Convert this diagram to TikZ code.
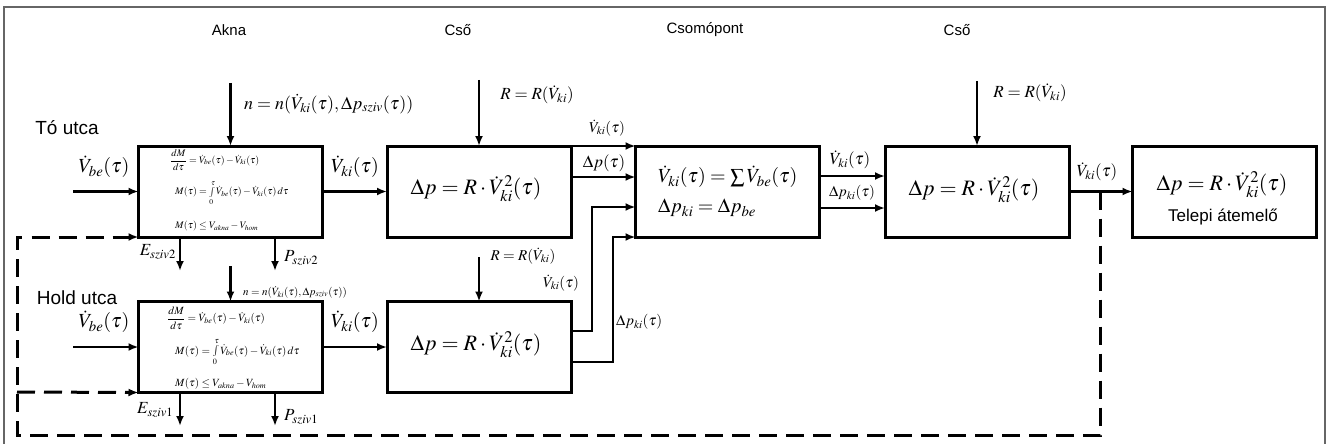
\documentclass[tikz,border=0pt]{standalone}
\usepackage{mathptmx}
\usepackage{fontspec}
\setsansfont{Liberation Sans}
\usetikzlibrary{arrows.meta,calc}
\begin{document}
\begin{tikzpicture}[x=1pt,y=-1pt,
  box/.style={draw, line width=3pt, minimum width=184pt, minimum height=91pt, inner sep=0pt, outer sep=0pt},
  arr/.style={line width=2.5pt, -{Latex[length=10pt,width=8pt]}},
  dsh/.style={line width=3pt, dash pattern=on 18pt off 9pt},
  big/.style={font=\fontsize{22}{26}\selectfont, inner sep=0pt},
  mid/.style={font=\fontsize{20}{24}\selectfont, inner sep=0pt},
  lab/.style={font=\fontsize{17}{20}\selectfont, inner sep=0pt},
  sm/.style={font=\fontsize{15}{18}\selectfont, inner sep=0pt},
  tiny/.style={font=\fontsize{10}{12}\selectfont, inner sep=0pt},
  tinyb/.style={font=\fontsize{11}{13}\selectfont, inner sep=0pt},
  street/.style={font=\sffamily\fontsize{19}{22}\selectfont, inner sep=0pt},
  title/.style={font=\sffamily\fontsize{15}{18}\selectfont, inner sep=0pt},
  frame/.style={draw=black!60, line width=2pt}]
\useasboundingbox (0,0) rectangle (1328,444);
\draw[frame] (4,444) -- (4,7) -- (1325,7) -- (1325,444);

% column titles
\node[title] (tAkna) at (229,30) {Akna};
\node[title] (tCso1) at (458,30) {Cső};
\node[title] (tCsp) at (705,30) {Csomópont};
\node[title] (tCso2) at (957,30) {Cső};
\node[street] (tTo) at (67,128) {Tó utca};
\node[street] (tHold) at (77,298) {Hold utca};

% boxes
\node[box] (A1) at (230.5,191.5) {};
\node[box] (A2) at (230.5,347) {};
\node[box] (C1) at (479,191.5) {};
\node[box] (C2) at (479,347) {};
\node[box] (N) at (727.5,191.5) {};
\node[box] (C3) at (977,191.5) {};
\node[box] (T) at (1224.5,191.5) {};

% box contents
\node[big] (C1f) at (476,189) {$\Delta p = R\cdot \dot V_{ki}^{2}(\tau)$};
\node[big] (C2f) at (476,345) {$\Delta p = R\cdot \dot V_{ki}^{2}(\tau)$};
\node[big] (C3f) at (974,190) {$\Delta p = R\cdot \dot V_{ki}^{2}(\tau)$};
\node[big] (Tf) at (1222,185) {$\Delta p = R\cdot \dot V_{ki}^{2}(\tau)$};
\node[font=\sffamily\fontsize{17}{20}\selectfont, inner sep=0pt] (Tl) at (1223,217) {Telepi átemelő};
\node[mid, anchor=west] (Nf1) at (658,177) {$\dot V_{ki}(\tau) = \sum \dot V_{be}(\tau)$};
\node[mid, anchor=west] (Nf2) at (658,208) {$\Delta p_{ki} = \Delta p_{be}$};

\node[tiny, anchor=west] (A1e1) at (170,160) {$\displaystyle\frac{dM}{d\tau} = \dot V_{be}(\tau) - \dot V_{ki}(\tau)$};
\node[tiny, anchor=west] (A1e2) at (175,193) {$M(\tau) = \int\limits_0^{\tau} \dot V_{be}(\tau) - \dot V_{ki}(\tau)\,d\tau$};
\node[tiny, anchor=west] (A1e3) at (175,226) {$M(\tau) \le V_{akna} - V_{hom}$};
\node[tinyb, anchor=west] (A2e1) at (167,318) {$\displaystyle\frac{dM}{d\tau} = \dot V_{be}(\tau) - \dot V_{ki}(\tau)$};
\node[tinyb, anchor=west] (A2e2) at (175,352) {$M(\tau) = \int\limits_0^{\tau} \dot V_{be}(\tau) - \dot V_{ki}(\tau)\,d\tau$};
\node[tinyb, anchor=west] (A2e3) at (175,384) {$M(\tau) \le V_{akna} - V_{hom}$};

% input coordinates
\coordinate (inA1) at (73,191.5);
\coordinate (inA2) at (73,347);
\coordinate (nA1) at (230.5,83);
\coordinate (nA2) at (230.5,266);
\coordinate (rC1) at (479,80);
\coordinate (rC2) at (479,257);
\coordinate (rC3) at (977,81);
\coordinate (E2) at (180,271);
\coordinate (P2) at (275,271);
\coordinate (E1) at (180,426);
\coordinate (P1) at (275,426);
\coordinate (j1) at (592,207);
\coordinate (j2) at (613,237);
\coordinate (tap) at (1100,191.5);
\coordinate (dBR) at (1100,435);
\coordinate (dBL) at (17,435);
\coordinate (dTL) at (17,237);
\coordinate (dML) at (17,392);

% connectors
\draw[arr] (inA1) -- (A1.west);
\draw[arr] (inA2) -- (A2.west);
\draw[arr] (nA1) -- (A1.north);
\draw[arr] (nA2) -- (A2.north);
\draw[arr] (A1.east) -- (C1.west);
\draw[arr] (A2.east) -- (C2.west);
\draw[arr] (rC1) -- (C1.north);
\draw[arr] (rC2) -- (C2.north);
\draw[arr] (rC3) -- (C3.north);
\draw[arr] (A1.south -| E2) -- (E2);
\draw[arr] (A1.south -| P2) -- (P2);
\draw[arr] (A2.south -| E1) -- (E1);
\draw[arr] (A2.south -| P1) -- (P1);
\draw[arr] (C1.north east) -- (N.north west);
\draw[arr] (C1.east |- 0,177) -- (N.west |- 0,177);
\draw[arr] (C2.east |- 0,331) -| (j1) -- (N.west |- j1);
\draw[arr] (C2.east |- 0,362) -| (j2) -- (N.south west);
\draw[arr] (N.east |- 0,176) -- (C3.west |- 0,176);
\draw[arr] (N.east |- 0,208) -- (C3.west |- 0,208);
\draw[arr] (C3.east) -- (T.west);
\draw[arr, dsh] (tap) -- (dBR) -- (dBL) -- (dTL) -- (A1.south west);
\draw[arr, dsh] (dML) -- (A2.south west);

% labels
\node[mid] (lVbe1) at (104,167) {$\dot V_{be}(\tau)$};
\node[mid] (lVbe2) at (104,322) {$\dot V_{be}(\tau)$};
\node[mid] (lVki1) at (355,167) {$\dot V_{ki}(\tau)$};
\node[mid] (lVki2) at (355,322) {$\dot V_{ki}(\tau)$};
\node[font=\fontsize{18}{21}\selectfont, inner sep=0pt, anchor=west] (ln1) at (244,104) {$n = n(\dot V_{ki}(\tau), \Delta p_{sziv}(\tau))$};
\node[tinyb, anchor=west] (ln2) at (243,292) {$n = n(\dot V_{ki}(\tau), \Delta p_{sziv}(\tau))$};
\node[lab] (lR1) at (537,95) {$R = R(\dot V_{ki})$};
\node[sm] (lR2) at (523,256) {$R = R(\dot V_{ki})$};
\node[lab] (lR3) at (1030,93) {$R = R(\dot V_{ki})$};
\node[sm] (lV3) at (607,128) {$\dot V_{ki}(\tau)$};
\node[lab] (lDp) at (604,163) {$\Delta p(\tau)$};
\node[sm] (lV4) at (561,283) {$\dot V_{ki}(\tau)$};
\node[sm, anchor=west] (lDp2) at (616,322) {$\Delta p_{ki}(\tau)$};
\node[lab] (lV5) at (850,160) {$\dot V_{ki}(\tau)$};
\node[sm] (lDp3) at (852,193) {$\Delta p_{ki}(\tau)$};
\node[lab] (lV6) at (1097,172) {$\dot V_{ki}(\tau)$};
\node[lab, anchor=east] (lE2) at (176,252) {$E_{sziv2}$};
\node[lab, anchor=west] (lP2) at (284,258) {$P_{sziv2}$};
\node[lab, anchor=west] (lE1) at (137,410) {$E_{sziv1}$};
\node[lab, anchor=west] (lP1) at (284,417) {$P_{sziv1}$};
\end{tikzpicture}
\end{document}
